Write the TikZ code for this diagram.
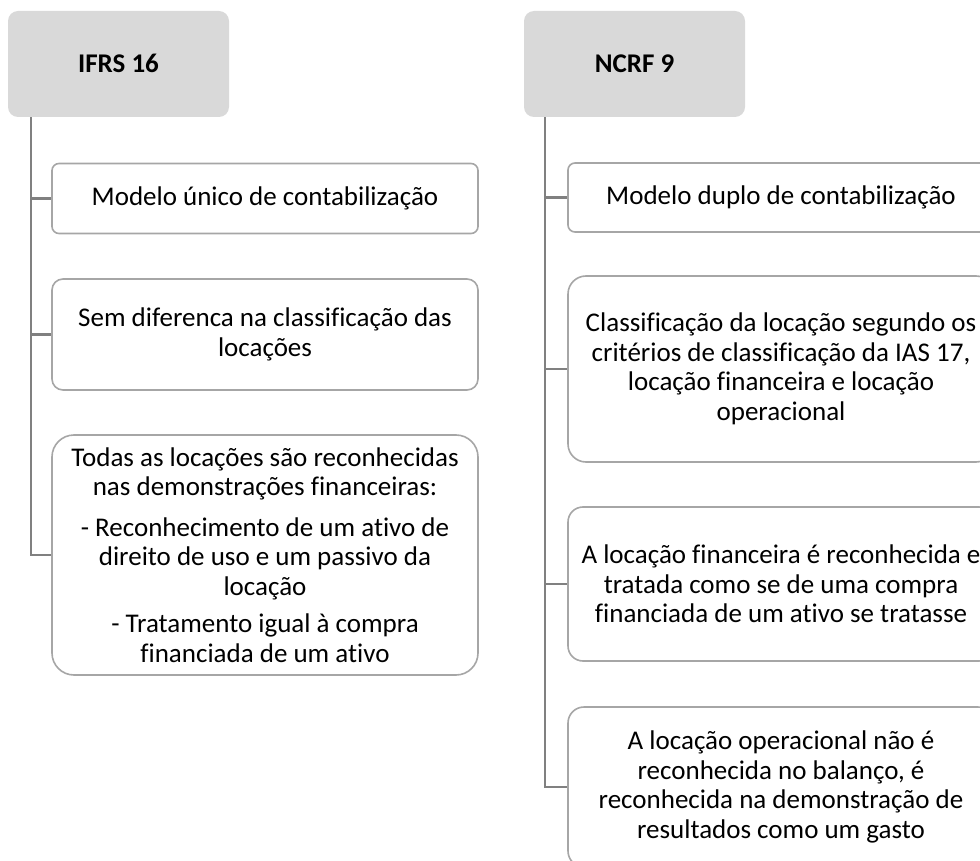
\documentclass[tikz,border=0pt]{standalone}
\usepackage{fontspec}
\setmainfont{Carlito}[Ligatures=NoCommon]
\definecolor{hdrfill}{HTML}{D9D9D9}
\definecolor{boxline}{HTML}{A6A6A6}
\definecolor{connline}{HTML}{808080}
\begin{document}
\begin{tikzpicture}[x=1pt,y=-1pt,
  hdrbox/.style={fill=hdrfill, draw=none, rounded corners=10pt, minimum width=221pt, minimum height=106pt, inner sep=0pt, text height=17pt, text depth=0pt, font=\fontsize{27}{29}\selectfont\bfseries},
  itembox/.style={draw=boxline, line width=1.6pt, fill=white, minimum width=426pt, inner sep=0pt, align=center, font=\fontsize{27}{29.5}\selectfont},
  conn/.style={draw=connline, line width=2.4pt}]
\useasboundingbox (0,0) rectangle (980,861);
\clip (0,0) rectangle (980,861);
% headers
\node[hdrbox] (hdrL) at (118.5,64) {IFRS 16};
\node[hdrbox] (hdrR) at (634.5,64) {NCRF 9};
% left column
\node[itembox, minimum height=70pt, rounded corners=7pt] (bL1) at (265,198.5) {Modelo único de contabilização};
\node[itembox, minimum height=111pt, rounded corners=11pt] (bL2) at (265,334.5) {Sem diferenca na classificação das\\locações};
\node[itembox, minimum height=240pt, rounded corners=22pt] (bL3) at (265,555) {Todas as locações são reconhecidas\\nas demonstrações financeiras:\\[11pt]- Reconhecimento de um ativo de\\direito de uso e um passivo da\\locação\\[8pt]- Tratamento igual à compra\\financiada de um ativo};
% right column
\node[itembox, minimum height=69pt, rounded corners=7pt] (bR1) at (781,197.5) {Modelo duplo de contabilização};
\node[itembox, minimum height=186pt, rounded corners=18pt] (bR2) at (781,369) {Classificação da locação segundo os\\critérios de classificação da IAS 17,\\locação financeira e locação\\operacional};
\node[itembox, minimum height=154pt, rounded corners=15pt] (bR3) at (781,584) {A locação financeira é reconhecida e\\tratada como se de uma compra\\financiada de um ativo se tratasse};
\node[itembox, minimum height=160pt, rounded corners=16pt] (bR4) at (781,787) {A locação operacional não é\\reconhecida no balanço, é\\reconhecida na demonstração de\\resultados como um gasto};
% connectors
\draw[conn] ([xshift=23pt]hdrL.south west) |- (bL1.west);
\draw[conn] ([xshift=23pt]hdrL.south west) |- (bL2.west);
\draw[conn] ([xshift=23pt]hdrL.south west) |- (bL3.west);
\draw[conn] ([xshift=21pt]hdrR.south west) |- (bR1.west);
\draw[conn] ([xshift=21pt]hdrR.south west) |- (bR2.west);
\draw[conn] ([xshift=21pt]hdrR.south west) |- (bR3.west);
\draw[conn] ([xshift=21pt]hdrR.south west) |- (bR4.west);
\end{tikzpicture}
\end{document}
